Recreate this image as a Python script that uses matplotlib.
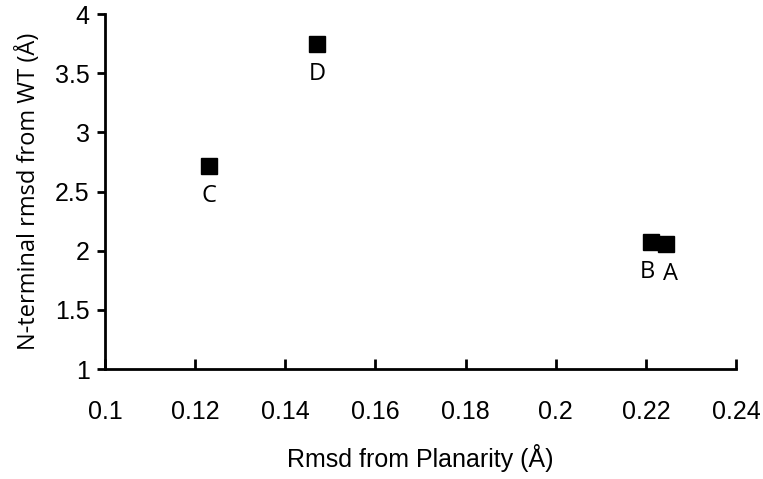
import matplotlib
matplotlib.use("Agg")
import matplotlib.pyplot as plt

# values
names = ["A", "B", "C", "D"]
rmsd_planarity = [0.2245, 0.2212, 0.1230, 0.1470]
nterm_rmsd = [2.06, 2.07, 2.72, 3.75]

x_ticks = [0.1, 0.12, 0.14, 0.16, 0.18, 0.2, 0.22, 0.24]
x_tick_labels = ["0.1", "0.12", "0.14", "0.16", "0.18", "0.2", "0.22", "0.24"]
y_ticks = [1, 1.5, 2, 2.5, 3, 3.5, 4]
y_tick_labels = ["1", "1.5", "2", "2.5", "3", "3.5", "4"]

narrow = ["Liberation Sans", "DejaVu Sans"]
label_font = ["Open Sans", "DejaVu Sans"]

fig = plt.figure(figsize=(7.63, 4.79), dpi=100)
ax = fig.add_axes([0.1376, 0.2296, 0.827, 0.741])

ax.plot(rmsd_planarity, nterm_rmsd, linestyle="none", marker="s",
        markersize=12, color="black", clip_on=False)

for name, x, y in zip(names, rmsd_planarity, nterm_rmsd):
    dx = 3 if name == "A" else (-3 if name == "B" else 0)
    ax.annotate(name, (x, y), xytext=(dx, -13), textcoords="offset points",
                ha="center", va="top", fontsize=17, family=label_font)

ax.set_xlim(0.1, 0.24)
ax.set_ylim(1, 4)
ax.set_xticks(x_ticks)
ax.set_xticklabels(x_tick_labels, family=narrow, fontsize=18)
ax.set_yticks(y_ticks)
ax.set_yticklabels(y_tick_labels, family=narrow, fontsize=18)

for side in ["top", "right"]:
    ax.spines[side].set_visible(False)
for side in ["left", "bottom"]:
    ax.spines[side].set_linewidth(2)
ax.tick_params(axis="x", direction="in", length=7, width=2, pad=22)
ax.tick_params(axis="y", direction="out", length=6, width=2, pad=5)

ax.set_xlabel("Rmsd from Planarity (Å)", family=narrow, fontsize=18, labelpad=15)
ax.set_ylabel("N-terminal rmsd from WT (Å)", family=label_font, fontsize=17, labelpad=10)

fig.savefig("out.png", dpi=100)
